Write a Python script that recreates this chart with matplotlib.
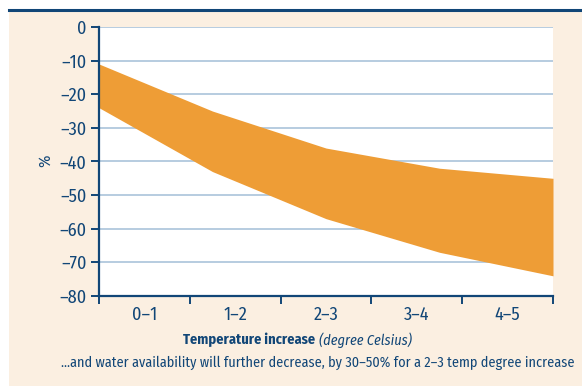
import matplotlib
matplotlib.use("Agg")
import matplotlib.pyplot as plt
from matplotlib.patches import Rectangle
from matplotlib.lines import Line2D

# ---- data ----
categories = ["0–1", "1–2", "2–3", "3–4", "4–5"]
x_points = [0, 1.25, 2.5, 3.75, 5]
upper = [-11, -25, -36, -42, -45]
lower = [-24, -43, -57, -67, -74]
y_ticks = [0, -10, -20, -30, -40, -50, -60, -70, -80]
xlabel_bold = "Temperature increase"
xlabel_ital = "(degree Celsius)"
caption = "...and water availability will further decrease, by 30–50% for a 2–3 temp degree increase"

# ---- style ----
W, H = 582, 386
BLUE = "#114677"
GRID = "#aac3da"
ORANGE = "#ee9d36"
CREAM = "#fbefe1"
FONT = ["Fira Sans Condensed", "Open Sans Condensed", "DejaVu Sans"]
plt.rcParams["font.family"] = FONT

fig = plt.figure(figsize=(W / 100, H / 100), dpi=100, facecolor="white")
fig.patches.append(Rectangle((9 / W, 0), 1 - 9 / W, 1 - 11 / H, transform=fig.transFigure,
                             facecolor=CREAM, edgecolor="none", zorder=-5))
fig.lines.append(Line2D([9 / W, 1], [1 - 10 / H, 1 - 10 / H], transform=fig.transFigure,
                        color=BLUE, linewidth=2.2, zorder=-4))

ax = fig.add_axes([99 / W, 1 - 296 / H, (553 - 99) / W, (296 - 27) / H])
ax.set_zorder(2)
ax.set_facecolor("white")
ax.fill_between(x_points, upper, lower, color=ORANGE, linewidth=0, zorder=2)
ax.set_xlim(0, 5)
ax.set_ylim(-80, 0)

ax.set_yticks(y_ticks)
ax.set_yticklabels([f"{v}".replace("-", "–") for v in y_ticks])
for v in y_ticks[:-1]:
    ax.axhline(v, color=GRID, linewidth=1.2, zorder=1)

ax.set_xticks(range(6))
ax.set_xticklabels([])
ax.set_xticks([i + 0.5 for i in range(5)], minor=True)
ax.set_xticklabels(categories, minor=True)
ax.tick_params(axis="x", which="minor", length=0, pad=7, labelsize=13, labelcolor=BLUE)
ax.tick_params(axis="x", which="major", length=6, width=1.4, color=BLUE, direction="out")
ax.tick_params(axis="y", length=6, width=1.4, color=BLUE, direction="out", pad=3,
               labelsize=13, labelcolor=BLUE)

for s in ["top", "right"]:
    ax.spines[s].set_visible(False)
for s in ["left", "bottom"]:
    ax.spines[s].set_color(BLUE)
    ax.spines[s].set_linewidth(1.6)

fig.text(45 / W, 1 - 161 / H, "%", rotation=90, ha="center", va="center",
         color=BLUE, fontsize=12)

tb = fig.text(183 / W, 1 - 340 / H, xlabel_bold, ha="left", va="center",
              color=BLUE, fontsize=12, fontweight="bold")
ti = fig.text(326 / W, 1 - 340 / H, xlabel_ital, ha="left", va="center",
              color=BLUE, fontsize=12, fontstyle="italic")
cap = fig.text((63 + 572) / 2 / W, 1 - 363 / H, caption, ha="center", va="center",
               color=BLUE, fontsize=11)

fig.canvas.draw()
r = fig.canvas.get_renderer()
gap = 4
total = tb.get_window_extent(r).width + ti.get_window_extent(r).width
s = 12 * (411 - 183 - gap) / total
tb.set_fontsize(s)
ti.set_fontsize(s)
w_cap = cap.get_window_extent(r).width
cap.set_fontsize(11 * 509 / w_cap)
fig.canvas.draw()
wb = tb.get_window_extent(r).width
ti.set_x((183 + wb + gap) / W)

fig.savefig("out.png", dpi=100, facecolor="white")
